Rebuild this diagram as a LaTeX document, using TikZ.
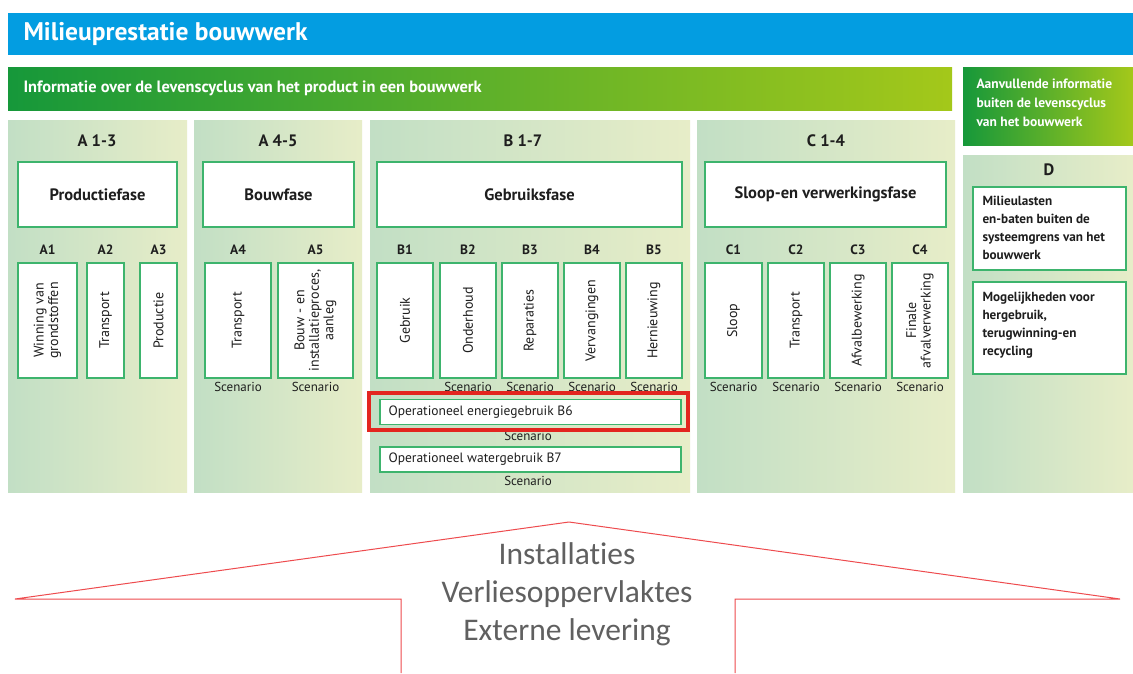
\documentclass[tikz,border=0pt]{standalone}
\usepackage{fontspec}
\setmainfont{PT Sans}
\newfontfamily\arrowfont{Carlito}
\definecolor{titleblue}{HTML}{039DE1}
\definecolor{gdark}{HTML}{16983A}
\definecolor{glight}{HTML}{A4C81A}
\definecolor{colL}{HTML}{C2DFC5}
\definecolor{colR}{HTML}{E7EDC8}
\definecolor{bgreen}{HTML}{3DB46D}
\definecolor{hired}{HTML}{E3251F}
\definecolor{arrred}{HTML}{EE4B4E}
\definecolor{txt}{HTML}{1E1E1E}
\definecolor{graytxt}{HTML}{606060}
\tikzset{
  colbg/.style={left color=colL, right color=colR, draw=none},
  phasebox/.style={draw=bgreen, line width=1.4pt, fill=white, minimum height=65pt, inner sep=0pt, font=\bfseries\fontsize{16.5}{18}\selectfont, text=txt},
  subbox/.style={draw=bgreen, line width=1.4pt, fill=white, minimum height=115pt, inner sep=0pt},
  subtxt/.style={rotate=90, font=\fontsize{14}{14.5}\selectfont, text=txt, align=center},
  code/.style={font=\bfseries\fontsize{13.5}{15}\selectfont, text=txt},
  head/.style={font=\bfseries\fontsize{16.5}{18}\selectfont, text=txt},
  scen/.style={font=\fontsize{13}{14}\selectfont, text=txt},
  wide/.style={draw=bgreen, line width=1.4pt, fill=white, minimum width=301pt, minimum height=25pt, inner sep=0pt},
  widetxt/.style={font=\fontsize{13.5}{15}\selectfont, text=txt, anchor=west},
  dbox/.style={draw=bgreen, line width=1.4pt, fill=white, minimum width=153pt, inner sep=0pt},
  dtxt/.style={font=\bfseries\fontsize{13.2}{18}\selectfont, text=txt, align=left, anchor=west},
}
\begin{document}
\begin{tikzpicture}[x=1pt,y=-1pt]
\useasboundingbox (0,0) rectangle (1133,673);
\fill[white] (0,0) rectangle (1133,673);
% title bar
\fill[titleblue] (8,13) rectangle (1133,55);
\node[anchor=west, text=white, font=\bfseries\fontsize{25.5}{28}\selectfont] (title) at (20,34) {Milieuprestatie bouwwerk};
% green bars
\shade[left color=gdark, right color=glight] (8,67) rectangle (952,110);
\node[anchor=west, text=white, font=\bfseries\fontsize{16.4}{18}\selectfont] (info) at (20,88) {Informatie over de levenscyclus van het product in een bouwwerk};
\shade[left color=gdark, middle color=gdark!70!glight, right color=glight] (963,67) rectangle (1133,145);
\node[anchor=west, text=white, align=left, font=\bfseries\fontsize{13.5}{19}\selectfont] (aanv) at (973,103) {Aanvullende informatie\\buiten de levenscyclus\\van het bouwwerk};
% column backgrounds
\shade[colbg] (8,120) rectangle (187,492);
\shade[colbg] (194,120) rectangle (362,492);
\shade[colbg] (370,120) rectangle (690,492);
\shade[colbg] (697,120) rectangle (955,492);
\shade[colbg] (963,155) rectangle (1133,492);
% headers
\node[head] (hA13) at (97,141) {A 1-3};
\node[head] (hA45) at (278,141) {A 4-5};
\node[head] (hB17) at (523,141) {B 1-7};
\node[head] (hC14) at (826,141) {C 1-4};
\node[head] (hD) at (1049,170) {D};
% phase boxes
\node[phasebox, minimum width=159pt] (pA13) at (97.5,194.5) {Productiefase};
\node[phasebox, minimum width=151pt] (pA45) at (278.5,194.5) {Bouwfase};
\node[phasebox, minimum width=305pt] (pB) at (529.5,194.5) {Gebruiksfase};
\node[phasebox, minimum width=241pt] (pC) at (825.5,194.5) {Sloop-en verwerkingsfase};
% codes
\foreach \n/\x in {A1/47.5,A2/105.5,A3/158.5,A4/238,A5/315.5,B1/405,B2/468,B3/530,B4/592,B5/654,C1/733.5,C2/796,C3/858,C4/920}{
  \node[code] (c\n) at (\x,250) {\n};
}
% sub boxes
\node[subbox, minimum width=59pt] (sA1) at (47.5,320.5) {};
\node[subtxt] at (sA1) {Winning van\\grondstoffen};
\node[subbox, minimum width=37pt] (sA2) at (105.5,320.5) {};
\node[subtxt] at (sA2) {Transport};
\node[subbox, minimum width=37pt] (sA3) at (158.5,320.5) {};
\node[subtxt] at (sA3) {Productie};
\node[subbox, minimum width=66pt] (sA4) at (238,320.5) {};
\node[subtxt] at (sA4) {Transport};
\node[subbox, minimum width=75pt] (sA5) at (315.5,320.5) {};
\node[subtxt] at (sA5) {Bouw - en\\installatieproces,\\aanleg};
\node[subbox, minimum width=56pt] (sB1) at (405,320.5) {};
\node[subtxt] at (sB1) {Gebruik};
\node[subbox, minimum width=56pt] (sB2) at (468,320.5) {};
\node[subtxt] at (sB2) {Onderhoud};
\node[subbox, minimum width=56pt] (sB3) at (530,320.5) {};
\node[subtxt] at (sB3) {Reparaties};
\node[subbox, minimum width=56pt] (sB4) at (592,320.5) {};
\node[subtxt] at (sB4) {Vervangingen};
\node[subbox, minimum width=56pt] (sB5) at (654,320.5) {};
\node[subtxt] at (sB5) {Hernieuwing};
\node[subbox, minimum width=57pt] (sC1) at (733.5,320.5) {};
\node[subtxt] at (sC1) {Sloop};
\node[subbox, minimum width=56pt] (sC2) at (796,320.5) {};
\node[subtxt] at (sC2) {Transport};
\node[subbox, minimum width=56pt] (sC3) at (858,320.5) {};
\node[subtxt] at (sC3) {Afvalbewerking};
\node[subbox, minimum width=56pt] (sC4) at (920,320.5) {};
\node[subtxt] at (sC4) {Finale\\afvalverwerking};
% scenario labels
\foreach \n/\x in {A4/238,A5/315.5,B2/468,B3/530,B4/592,B5/654,C1/733.5,C2/796,C3/858,C4/920}{
  \node[scen] (sc\n) at (\x,387) {Scenario};
}
% B6 / B7
\node[wide] (b6) at (530.5,412) {};
\node[widetxt] (b6t) at (385,412) {Operationeel energiegebruik B6};
\node[scen] (scB6) at (528,436) {Scenario};
\node[wide] (b7) at (530.5,459.5) {};
\node[widetxt] (b7t) at (385,459.5) {Operationeel watergebruik B7};
\node[scen] (scB7) at (528,481) {Scenario};
\node[draw=hired, line width=4pt, minimum width=319pt, minimum height=37pt, inner sep=0pt] (hl) at (528.5,411.5) {};
% D boxes
\node[dbox, minimum height=83pt] (d1) at (1049.5,228.5) {};
\node[dtxt] at (979,228) {Milieulasten\\en-baten buiten de\\systeemgrens van het\\bouwwerk};
\node[dbox, minimum height=92pt] (d2) at (1049.5,328) {};
\node[dtxt] at (979,325) {Mogelijkheden voor\\hergebruik,\\terugwinning-en\\recycling};
% bottom arrow
\draw[arrred, line width=1pt] (401,673) -- (401,599) -- (15,599) -- (569,522) -- (1120,599) -- (735,599) -- (735,673);
\node[text=graytxt, align=center, font=\arrowfont\addfontfeatures{Ligatures=NoCommon}\fontsize{31.5}{38}\selectfont] (arr) at (567,594) {Installaties\\Verliesoppervlaktes\\Externe levering};
\end{tikzpicture}
\end{document}
